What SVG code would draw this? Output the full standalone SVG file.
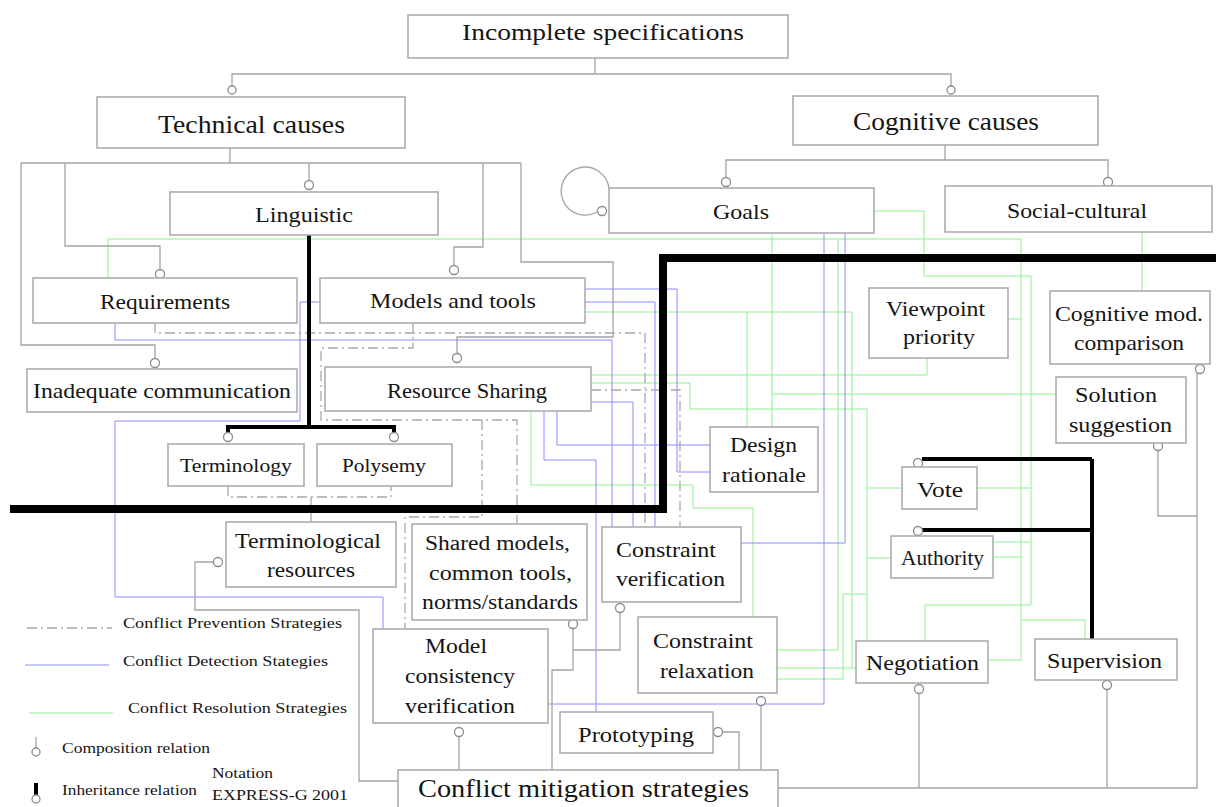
<svg xmlns="http://www.w3.org/2000/svg" width="1216" height="807" viewBox="0 0 1216 807">
<style>
.box{fill:#fff;stroke:#a8a8a8;stroke-width:1.5}
.t{font-family:"Liberation Serif","Times New Roman",serif;fill:#151515}
.comp{fill:none;stroke:#a4a4a4;stroke-width:1.3}
.circ{fill:#fff;stroke:#8c8c8c;stroke-width:1.3}
.inh{fill:none;stroke:#000;stroke-width:4}
.det{fill:none;stroke:#8a8aff;stroke-width:1}
.res{fill:none;stroke:#8ef08e;stroke-width:1}
.prev{fill:none;stroke:#a8a8a8;stroke-width:1.3;stroke-dasharray:10 4 2 4}
</style>
<rect width="1216" height="807" fill="#fff"/>
<g id="connectors">
  <!-- resolution (green) -->
  <path class="res" d="M108,278 V239 H1021 V660 H988"/>
  <path class="res" d="M838,239 V650 H776"/>
  <path class="res" d="M1021,620 H1085 V639"/>
  <path class="res" d="M1008,319 H1021"/>
  <path class="res" d="M993,557 H1021"/>
  <path class="res" d="M873,211 H924 V276 H1031 V605 H925 V641"/>
  <path class="res" d="M977,488 H1031"/>
  <path class="res" d="M993,542 H1031"/>
  <path class="res" d="M591,375 H927 V358"/>
  <path class="res" d="M1142,232 V291"/>
  <path class="res" d="M772,233 V427"/>
  <path class="res" d="M1056,394 H772"/>
  <path class="res" d="M585,312 H852 V668"/>
  <path class="res" d="M747,312 V427"/>
  <path class="res" d="M776,668 H856"/>
  <path class="res" d="M591,383 H690 V409 H867 V641"/>
  <path class="res" d="M867,488 H902"/>
  <path class="res" d="M867,558 H891"/>
  <path class="res" d="M776,679 H843 V594 H867"/>
  <path class="res" d="M531,411 V485 H693 V508 H753 V617"/>
  <!-- detection (blue) -->
  <path class="det" d="M585,289 H677 V472 H710"/>
  <path class="det" d="M585,302 H655 V527"/>
  <path class="det" d="M115,323 V340 H612 V527"/>
  <path class="det" d="M591,402 H633 V527"/>
  <path class="det" d="M320,302 H300 V421 H115 V597 H383 V629"/>
  <path class="det" d="M544,411 V460 H596 V712"/>
  <path class="det" d="M557,411 V445 H710"/>
  <path class="det" d="M845,233 V543 H741"/>
  <path class="det" d="M824,233 V704 H548"/>
  <!-- prevention (dash-dot) -->
  <path class="prev" d="M155,323 V333 H645 V527"/>
  <path class="prev" d="M413,323 V348 H321 V420 H517 V524"/>
  <path class="prev" d="M482,420 V517 H405 V629"/>
  <path class="prev" d="M591,390 H680 V527"/>
  <path class="prev" d="M228,486 V497 H391 V486"/>
  <path class="prev" d="M311,497 V509"/>
  <path class="comp" d="M311,512 V522"/>
  <!-- composition (gray) -->
  <path class="comp" d="M595,58 V74 M232,86 V74 H951 V86"/>
  <path class="comp" d="M230,148 V163 M21,163 H521"/>
  <path class="comp" d="M21,163 V345 H155 V359"/>
  <path class="comp" d="M65,163 V246 H160 V270"/>
  <path class="comp" d="M309,163 V181"/>
  <path class="comp" d="M483,163 V247 H454 V266"/>
  <path class="comp" d="M521,163 V262 H613 V337 H457 V354"/>
  <path class="comp" d="M945,145 V160 M726,178 V160 H1108 V178"/>
  <path class="comp" d="M609,188 A24,24 0 1,0 597,212"/>
  <path class="comp" d="M214,562 H195 V610 H359 V781 H398"/>
  <path class="comp" d="M573,628 V670 H552 V770"/>
  <path class="comp" d="M620,612 V650 H573"/>
  <path class="comp" d="M459,736 V770"/>
  <path class="comp" d="M722,732 H739 V770"/>
  <path class="comp" d="M761,705 V770"/>
  <path class="comp" d="M778,788 H1197 V373"/>
  <path class="comp" d="M1158,450 V516 H1197"/>
  <path class="comp" d="M919,693 V788"/>
  <path class="comp" d="M1107,689 V788"/>
  <!-- inheritance (thick) -->
  <path fill="none" stroke="#000" stroke-width="8" d="M10,509 H663 V258 H1216"/>
  <path class="inh" d="M309,235 V427 M228,433 V427 H394 V433"/>
  <path class="inh" d="M1092,459 V639 M922,459 H1092 M922,530 H1092"/>
  <!-- circles -->
  <circle class="circ" cx="232" cy="90" r="4"/>
  <circle class="circ" cx="951" cy="90" r="4"/>
  <circle class="circ" cx="155" cy="363" r="4.5"/>
  <circle class="circ" cx="160" cy="274" r="4.5"/>
  <circle class="circ" cx="309" cy="185" r="4.5"/>
  <circle class="circ" cx="454" cy="270" r="4.5"/>
  <circle class="circ" cx="457" cy="358" r="4.5"/>
  <circle class="circ" cx="726" cy="182" r="4.5"/>
  <circle class="circ" cx="1108" cy="182" r="4.5"/>
  <circle class="circ" cx="602" cy="211" r="4.5"/>
  <circle class="circ" cx="228" cy="437" r="4.5"/>
  <circle class="circ" cx="394" cy="437" r="4.5"/>
  <circle class="circ" cx="918" cy="463" r="4.5"/>
  <circle class="circ" cx="918" cy="531" r="4.5"/>
  <circle class="circ" cx="218" cy="562" r="4.5"/>
  <circle class="circ" cx="573" cy="624" r="4.5"/>
  <circle class="circ" cx="620" cy="608" r="4.5"/>
  <circle class="circ" cx="459" cy="732" r="4.5"/>
  <circle class="circ" cx="718" cy="732" r="4.5"/>
  <circle class="circ" cx="761" cy="701" r="4.5"/>
  <circle class="circ" cx="1158" cy="446" r="4.5"/>
  <circle class="circ" cx="1200" cy="369" r="4.5"/>
  <circle class="circ" cx="919" cy="689" r="4.5"/>
  <circle class="circ" cx="1107" cy="685" r="4.5"/>
</g>
<g id="incomplete-specifications"><rect class="box" x="408" y="15" width="380" height="43"/><text class="t" x="462" y="40" font-size="24" textLength="282" lengthAdjust="spacingAndGlyphs">Incomplete specifications</text></g>
<g id="technical-causes"><rect class="box" x="97" y="97" width="308" height="51"/><text class="t" x="158" y="133" font-size="25" textLength="187" lengthAdjust="spacingAndGlyphs">Technical causes</text></g>
<g id="cognitive-causes"><rect class="box" x="793" y="96" width="305" height="49"/><text class="t" x="853" y="130" font-size="25" textLength="186" lengthAdjust="spacingAndGlyphs">Cognitive causes</text></g>
<g id="linguistic"><rect class="box" x="170" y="192" width="268" height="43"/><text class="t" x="255" y="222" font-size="21" textLength="98" lengthAdjust="spacingAndGlyphs">Linguistic</text></g>
<g id="goals"><rect class="box" x="609" y="188" width="265" height="45"/><text class="t" x="713" y="219" font-size="21" textLength="56" lengthAdjust="spacingAndGlyphs">Goals</text></g>
<g id="social-cultural"><rect class="box" x="945" y="186" width="267" height="46"/><text class="t" x="1007" y="218" font-size="21" textLength="140" lengthAdjust="spacingAndGlyphs">Social-cultural</text></g>
<g id="requirements"><rect class="box" x="33" y="278" width="264" height="45"/><text class="t" x="100" y="309" font-size="21" textLength="130" lengthAdjust="spacingAndGlyphs">Requirements</text></g>
<g id="models-and-tools"><rect class="box" x="320" y="278" width="265" height="45"/><text class="t" x="370" y="308" font-size="21" textLength="166" lengthAdjust="spacingAndGlyphs">Models and tools</text></g>
<g id="inadequate-communication"><rect class="box" x="27" y="369" width="270" height="43"/><text class="t" x="33" y="398" font-size="21" textLength="258" lengthAdjust="spacingAndGlyphs">Inadequate communication</text></g>
<g id="resource-sharing"><rect class="box" x="325" y="367" width="266" height="44"/><text class="t" x="387" y="398" font-size="21" textLength="160" lengthAdjust="spacingAndGlyphs">Resource Sharing</text></g>
<g id="terminology"><rect class="box" x="168" y="444" width="136" height="42"/><text class="t" x="180" y="472" font-size="18" textLength="112" lengthAdjust="spacingAndGlyphs">Terminology</text></g>
<g id="polysemy"><rect class="box" x="317" y="444" width="135" height="42"/><text class="t" x="342" y="472" font-size="18" textLength="84" lengthAdjust="spacingAndGlyphs">Polysemy</text></g>
<g id="viewpoint-priority"><rect class="box" x="869" y="288" width="139" height="70"/><text class="t" font-size="21"><tspan x="886" y="316" textLength="99" lengthAdjust="spacingAndGlyphs">Viewpoint</tspan><tspan x="903" y="344" textLength="72" lengthAdjust="spacingAndGlyphs">priority</tspan></text></g>
<g id="cognitive-mod-comparison"><rect class="box" x="1050" y="291" width="160" height="73"/><text class="t" font-size="21"><tspan x="1055" y="321" textLength="148" lengthAdjust="spacingAndGlyphs">Cognitive mod.</tspan><tspan x="1074" y="350" textLength="110" lengthAdjust="spacingAndGlyphs">comparison</tspan></text></g>
<g id="solution-suggestion"><rect class="box" x="1056" y="377" width="130" height="66"/><text class="t" font-size="21"><tspan x="1075" y="402" textLength="82" lengthAdjust="spacingAndGlyphs">Solution</tspan><tspan x="1069" y="432" textLength="103" lengthAdjust="spacingAndGlyphs">suggestion</tspan></text></g>
<g id="design-rationale"><rect class="box" x="710" y="427" width="108" height="65"/><text class="t" font-size="21"><tspan x="730" y="452" textLength="67" lengthAdjust="spacingAndGlyphs">Design</tspan><tspan x="722" y="482" textLength="84" lengthAdjust="spacingAndGlyphs">rationale</tspan></text></g>
<g id="vote"><rect class="box" x="902" y="467" width="75" height="42"/><text class="t" x="917" y="497" font-size="21" textLength="46" lengthAdjust="spacingAndGlyphs">Vote</text></g>
<g id="authority"><rect class="box" x="891" y="536" width="102" height="42"/><text class="t" x="901" y="565" font-size="21" textLength="83" lengthAdjust="spacingAndGlyphs">Authority</text></g>
<g id="terminological-resources"><rect class="box" x="226" y="522" width="170" height="65"/><text class="t" font-size="21"><tspan x="235" y="548" textLength="146" lengthAdjust="spacingAndGlyphs">Terminological</tspan><tspan x="267" y="577" textLength="88" lengthAdjust="spacingAndGlyphs">resources</tspan></text></g>
<g id="shared-models"><rect class="box" x="412" y="524" width="175" height="96"/><text class="t" font-size="20"><tspan x="425" y="550" textLength="145" lengthAdjust="spacingAndGlyphs">Shared models,</tspan><tspan x="429" y="580" textLength="143" lengthAdjust="spacingAndGlyphs">common tools,</tspan><tspan x="422" y="609" textLength="156" lengthAdjust="spacingAndGlyphs">norms/standards</tspan></text></g>
<g id="constraint-verification"><rect class="box" x="602" y="527" width="139" height="75"/><text class="t" font-size="21"><tspan x="616" y="557" textLength="100" lengthAdjust="spacingAndGlyphs">Constraint</tspan><tspan x="616" y="586" textLength="109" lengthAdjust="spacingAndGlyphs">verification</tspan></text></g>
<g id="constraint-relaxation"><rect class="box" x="638" y="617" width="139" height="76"/><text class="t" font-size="21"><tspan x="653" y="648" textLength="100" lengthAdjust="spacingAndGlyphs">Constraint</tspan><tspan x="660" y="678" textLength="94" lengthAdjust="spacingAndGlyphs">relaxation</tspan></text></g>
<g id="negotiation"><rect class="box" x="856" y="641" width="132" height="42"/><text class="t" x="866" y="670" font-size="21" textLength="113" lengthAdjust="spacingAndGlyphs">Negotiation</text></g>
<g id="supervision"><rect class="box" x="1035" y="639" width="142" height="41"/><text class="t" x="1047" y="668" font-size="21" textLength="115" lengthAdjust="spacingAndGlyphs">Supervision</text></g>
<g id="model-consistency-verification"><rect class="box" x="373" y="629" width="175" height="94"/><text class="t" font-size="21"><tspan x="425" y="653" textLength="62" lengthAdjust="spacingAndGlyphs">Model</tspan><tspan x="405" y="683" textLength="110" lengthAdjust="spacingAndGlyphs">consistency</tspan><tspan x="405" y="713" textLength="110" lengthAdjust="spacingAndGlyphs">verification</tspan></text></g>
<g id="prototyping"><rect class="box" x="560" y="712" width="153" height="41"/><text class="t" x="578" y="742" font-size="21" textLength="116" lengthAdjust="spacingAndGlyphs">Prototyping</text></g>
<g id="conflict-mitigation-strategies"><rect class="box" x="398" y="770" width="380" height="45"/><text class="t" x="418" y="797" font-size="25" textLength="331" lengthAdjust="spacingAndGlyphs">Conflict  mitigation strategies</text></g>
<g id="legend">
  <path class="prev" d="M27,628 H112"/>
  <path class="det" d="M25,665 H109"/>
  <path class="res" d="M29,713 H113"/>
  <text class="t" x="123" y="628" font-size="15" textLength="219" lengthAdjust="spacingAndGlyphs">Conflict  Prevention Strategies</text>
  <text class="t" x="123" y="666" font-size="15" textLength="205" lengthAdjust="spacingAndGlyphs">Conflict  Detection Stategies</text>
  <text class="t" x="128" y="713" font-size="15" textLength="219" lengthAdjust="spacingAndGlyphs">Conflict  Resolution Strategies</text>
  <path class="comp" d="M36,737 V748"/>
  <circle class="circ" cx="36" cy="752" r="4"/>
  <text class="t" x="62" y="753" font-size="15" textLength="148" lengthAdjust="spacingAndGlyphs">Composition relation</text>
  <path class="inh" d="M36,783 V795"/>
  <circle class="circ" cx="36" cy="799" r="4"/>
  <text class="t" x="62" y="795" font-size="15" textLength="135" lengthAdjust="spacingAndGlyphs">Inheritance relation</text>
  <text class="t" x="212" y="778" font-size="15" textLength="61" lengthAdjust="spacingAndGlyphs">Notation</text>
  <text class="t" x="212" y="800" font-size="15" textLength="136" lengthAdjust="spacingAndGlyphs">EXPRESS-G 2001</text>
</g>
</svg>
